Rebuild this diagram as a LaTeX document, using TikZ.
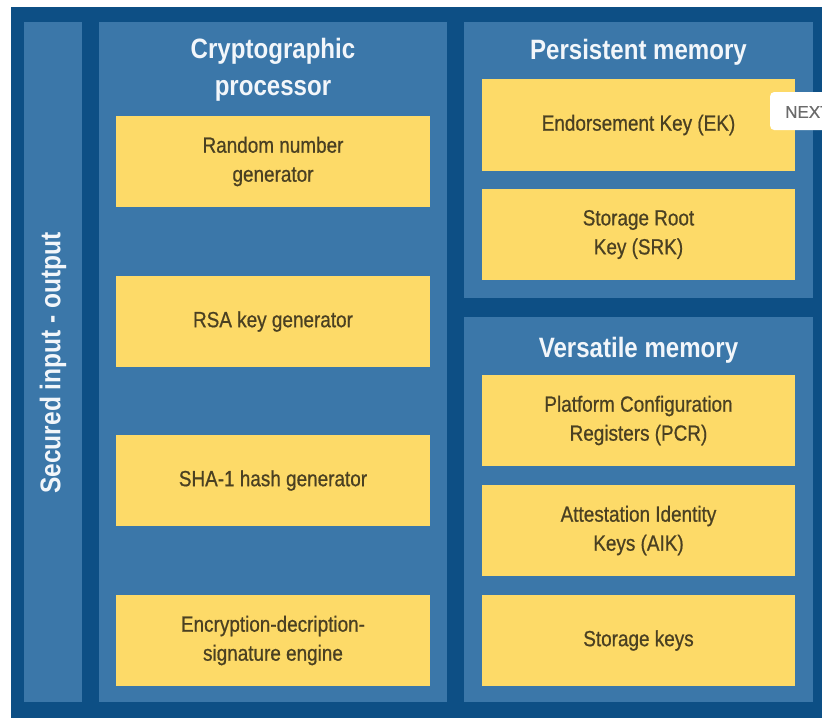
\documentclass[tikz,border=0pt]{standalone}
\usepackage{fontspec}
\setmainfont{Liberation Sans}[FakeStretch=0.86]
\newfontfamily\keyfont{Liberation Sans}[FakeStretch=0.86, FakeBold=0.7]
\newfontfamily\badgefont{Liberation Sans}[FakeBold=0.5]
\definecolor{frameblue}{HTML}{0D4F85}
\definecolor{panelblue}{HTML}{3B77A9}
\definecolor{keyyellow}{HTML}{FDDA68}
\definecolor{keytext}{HTML}{4A4022}
\definecolor{titlewhite}{HTML}{F2F6FA}
\definecolor{badgegrey}{HTML}{6A6A6A}
\tikzset{
  panel/.style={fill=panelblue, draw=none, inner sep=0pt, outer sep=0pt},
  keybox/.style={fill=keyyellow, draw=none, inner sep=0pt, outer sep=0pt,
    align=center, text=keytext, font=\keyfont\fontsize{22}{29}\selectfont},
  paneltitle/.style={align=center, text=titlewhite, inner sep=0pt,
    font=\bfseries\fontsize{28}{37}\selectfont},
}
\begin{document}
\begin{tikzpicture}[x=1pt, y=-1pt]
  \useasboundingbox (0,0) rectangle (822,718);
  \clip (0,0) rectangle (822,718);

  % outer frame
  \fill[frameblue] (11,7) rectangle (822,718);

  % panels
  \node[panel, minimum width=58pt,  minimum height=680pt] (io)     at (53,362) {};
  \node[panel, minimum width=348pt, minimum height=680pt] (crypto) at (273,362) {};
  \node[panel, minimum width=349pt, minimum height=276pt] (persist) at (638.5,160) {};
  \node[panel, minimum width=349pt, minimum height=385pt] (versa)  at (638.5,509.5) {};

  % panel titles
  \node[paneltitle, rotate=90, font=\bfseries\fontsize{28.5}{37}\selectfont] (iotitle) at (53,363) {Secured input - output};
  \node[paneltitle] (cryptotitle) at (273,70) {Cryptographic\\processor};
  \node[paneltitle] (persisttitle) at (638.5,52) {Persistent memory};
  \node[paneltitle] (versatitle) at (638.5,350) {Versatile memory};

  % cryptographic processor blocks
  \node[keybox, minimum width=314pt, minimum height=91pt] (rng) at (273,161.5) {Random number\\generator};
  \node[keybox, minimum width=314pt, minimum height=91pt] (rsa) at (273,321.5) {RSA key generator};
  \node[keybox, minimum width=314pt, minimum height=91pt] (sha) at (273,480.5) {SHA-1 hash generator};
  \node[keybox, minimum width=314pt, minimum height=91pt] (eng) at (273,640.5) {Encryption-decription-\\signature engine};

  % persistent memory blocks
  \node[keybox, minimum width=313pt, minimum height=92pt] (ek)  at (638.5,125) {Endorsement Key (EK)};
  \node[keybox, minimum width=313pt, minimum height=91pt] (srk) at (638.5,234.5) {Storage Root\\Key (SRK)};

  % versatile memory blocks
  \node[keybox, minimum width=313pt, minimum height=91pt] (pcr) at (638.5,420.5) {Platform Configuration\\Registers (PCR)};
  \node[keybox, minimum width=313pt, minimum height=91pt] (aik) at (638.5,530.5) {Attestation Identity\\Keys (AIK)};
  \node[keybox, minimum width=313pt, minimum height=91pt] (sk)  at (638.5,640.5) {Storage keys};

  % navigation badge at the right edge
  \node[fill=white, rounded corners=4pt, minimum width=80pt, minimum height=38pt,
        anchor=west, inner sep=0pt] (badge) at (770,111) {};
  \node[anchor=west, text=badgegrey, inner sep=0pt,
        font=\badgefont\fontsize{17}{17}\selectfont] (badgetext) at (785,112) {NEXT};
\end{tikzpicture}
\end{document}
